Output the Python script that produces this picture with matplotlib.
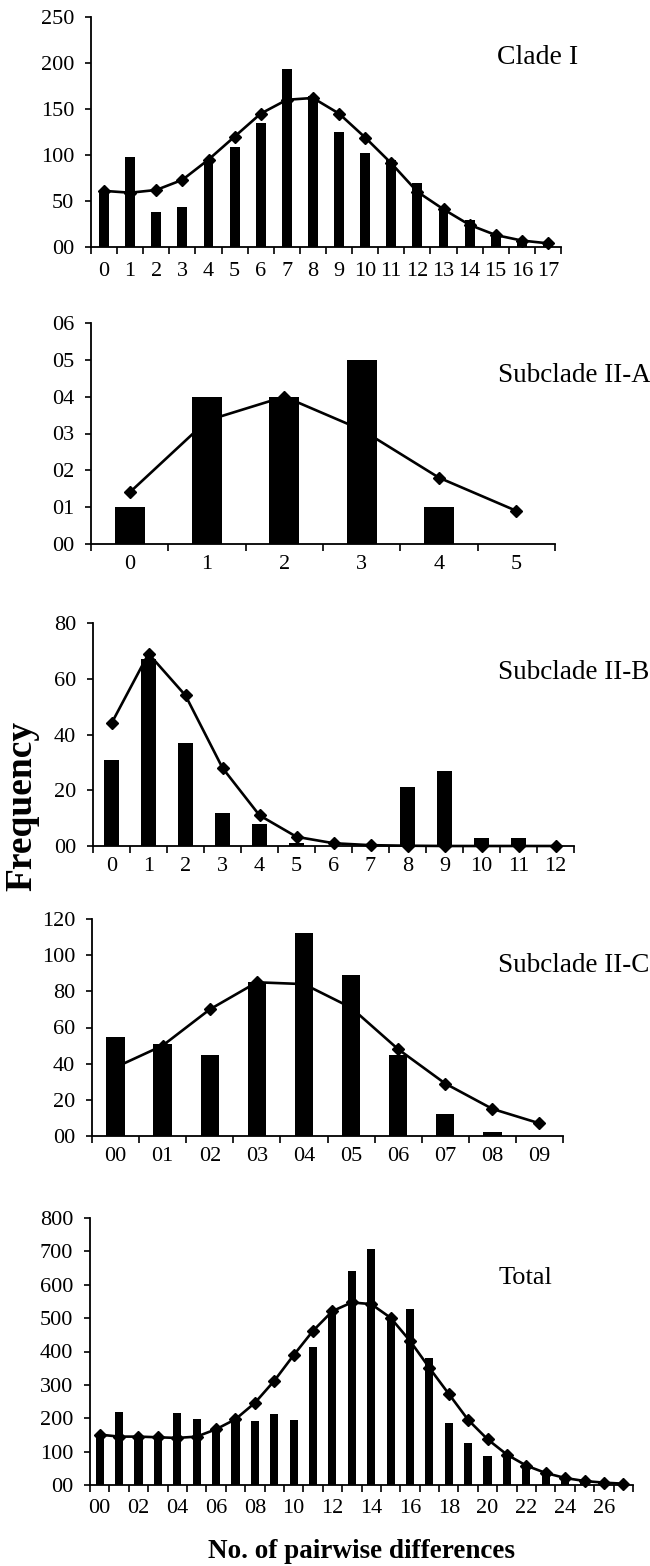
import matplotlib
matplotlib.use("Agg")
import matplotlib.pyplot as plt
import numpy as np

plt.rcParams["font.family"] = ["Liberation Serif", "DejaVu Serif"]

# ---- data ----
clade1_obs = [62, 98, 38, 43, 95, 109, 135, 194, 164, 125, 102, 95, 70, 42, 29, 15, 6, 2]
clade1_exp = [61, 59, 62, 73, 95, 120, 145, 160, 162, 145, 119, 91, 60, 41, 24, 13, 7, 4]
clade1_yticks = ["00", "50", "100", "150", "200", "250"]

subA_obs = [1, 4, 4, 5, 1, 0]
subA_exp = [1.4, 3.35, 4.0, 3.1, 1.8, 0.9]
subA_yticks = ["00", "01", "02", "03", "04", "05", "06"]

subB_obs = [31, 67, 37, 12, 8, 1, 0, 0, 21, 27, 3, 3, 0]
subB_exp = [44, 69, 54, 28, 11, 3.3, 1, 0.3, 0.1, 0, 0, 0, 0]
subB_yticks = ["00", "20", "40", "60", "80"]

subC_obs = [55, 51, 45, 85, 112, 89, 45, 12, 2, 0]
subC_exp = [38, 50, 70, 85, 84, 71, 48, 29, 15, 7]
subC_yticks = ["00", "20", "40", "60", "80", "100", "120"]

total_obs = [150, 220, 134, 143, 217, 197, 163, 195, 193, 213, 196, 413, 520, 640,
             706, 500, 528, 381, 186, 125, 87, 90, 59, 36, 15, 7, 3, 1]
total_exp = [151, 145, 145, 143, 141, 145, 167, 197, 246, 312, 389, 462, 521, 547,
             542, 501, 432, 351, 273, 195, 137, 91, 58, 36, 21, 12, 7, 4]
total_yticks = ["00", "100", "200", "300", "400", "500", "600", "700", "800"]

W, H = 650, 1566
fig = plt.figure(figsize=(W / 100, H / 100), dpi=100)


def px_axes(left, right, top, bottom):
    return fig.add_axes([left / W, 1 - bottom / H, (right - left) / W, (bottom - top) / H])


def panel(ax, obs, exp, ystep, yticklabels, xlabels, label, label_x, label_y,
          width=0.4, label_size=19.5, xpad=9):
    n = len(obs)
    x = np.arange(n)
    ax.bar(x, obs, width=width, color="black", zorder=2)
    ax.plot(x, exp, color="black", lw=1.9, marker="D", ms=6, zorder=3, clip_on=False)
    ax.set_xlim(-0.5, n - 0.5)
    ymax = ystep * (len(yticklabels) - 1)
    ax.set_ylim(0, ymax)
    ax.set_yticks(np.arange(len(yticklabels)) * ystep)
    ax.set_yticklabels(yticklabels)
    ax.set_xticks(x)
    ax.set_xticklabels(xlabels)
    ax.set_xticks(np.arange(n + 1) - 0.5, minor=True)
    ax.tick_params(axis="x", which="major", length=0, pad=xpad, labelsize=16)
    ax.tick_params(axis="x", which="minor", length=5, width=1.2, direction="out")
    ax.tick_params(axis="y", length=4, width=1.2, direction="out", labelsize=16, pad=8)
    for s in ("top", "right"):
        ax.spines[s].set_visible(False)
    for s in ("left", "bottom"):
        ax.spines[s].set_linewidth(1.3)
    fig.text(label_x / W, 1 - label_y / H, label, fontsize=label_size, va="center", ha="left")


ax1 = px_axes(91, 561, 17, 247)
panel(ax1, clade1_obs, clade1_exp, 50, clade1_yticks,
      [str(i) for i in range(len(clade1_obs))], "Clade I", 497, 57,
      width=0.38, label_size=20, xpad=11)

ax2 = px_axes(91, 555, 323, 544)
panel(ax2, subA_obs, subA_exp, 1, subA_yticks,
      [str(i) for i in range(len(subA_obs))], "Subclade II-A", 498, 375, width=0.39, xpad=8)

ax3 = px_axes(93, 574, 623, 846)
panel(ax3, subB_obs, subB_exp, 20, subB_yticks,
      [str(i) for i in range(len(subB_obs))], "Subclade II-B", 498, 672, width=0.41, xpad=8)

ax4 = px_axes(92, 563, 919, 1136)
panel(ax4, subC_obs, subC_exp, 20, subC_yticks,
      ["%02d" % i for i in range(len(subC_obs))], "Subclade II-C", 498, 966, width=0.39, xpad=8)

ax5 = px_axes(90, 633, 1218, 1485)
panel(ax5, total_obs, total_exp, 100, total_yticks,
      ["%02d" % i if i % 2 == 0 else "" for i in range(len(total_obs))], "Total", 499, 1278,
      width=0.42, label_size=19, xpad=10)

fig.text(22 / W, 1 - 806 / H, "Frequency", rotation=90, fontsize=27, fontweight="bold",
         va="center", ha="center")
fig.text(362 / W, 1 - 1552 / H, "No. of pairwise differences", fontsize=19.5, fontweight="bold",
         va="center", ha="center")

fig.savefig("out.png", dpi=100)
